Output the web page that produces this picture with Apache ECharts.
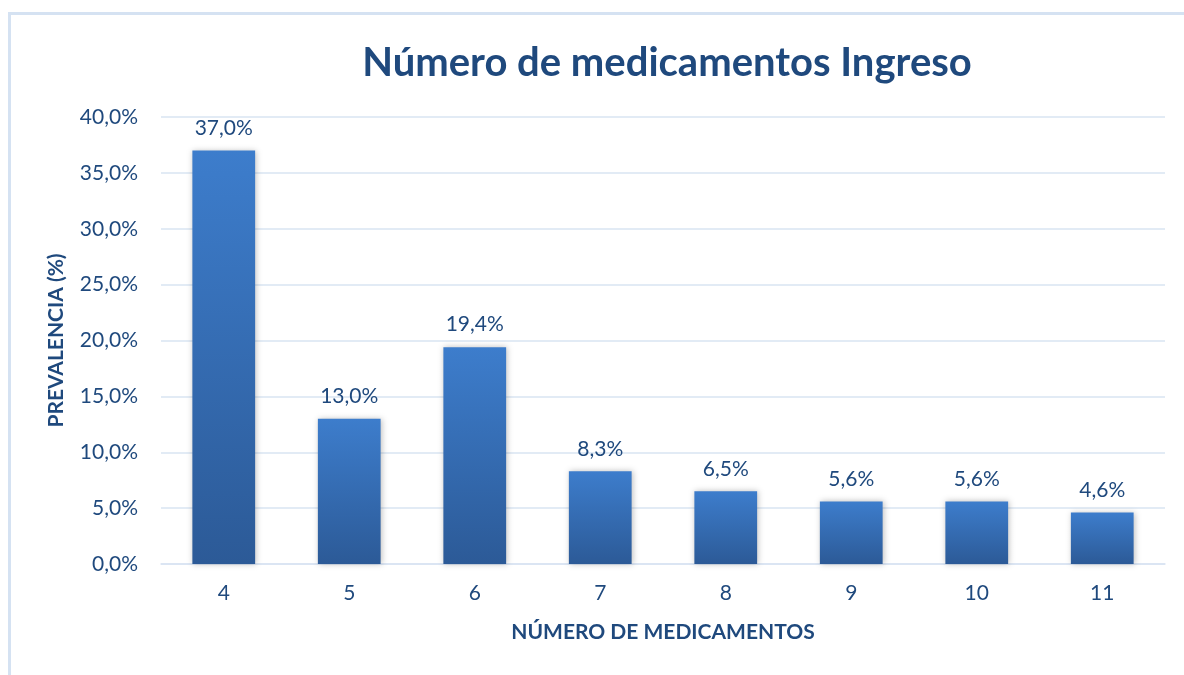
<!DOCTYPE html>
<html>
<head>
<meta charset="utf-8">
<script src="https://cdn.jsdelivr.net/npm/echarts@6/dist/echarts.min.js"></script>
<style>html,body{margin:0;padding:0;background:#fff;}#c{width:1184px;height:675px;}</style>
</head>
<body>
<div id="c"></div>
<script>
const categories = ['4', '5', '6', '7', '8', '9', '10', '11'];
const prevalence = [37.0, 13.0, 19.4, 8.3, 6.5, 5.6, 5.6, 4.6];
const titleText = 'Número de medicamentos Ingreso';
const xName = 'NÚMERO DE MEDICAMENTOS';
const yName = 'PREVALENCIA (%)';

const fmt = v => v.toFixed(1).replace('.', ',') + '%';
const textColor = '#1F497D';
const font = 'Lato';

const chart = echarts.init(document.getElementById('c'));
chart.setOption({
  backgroundColor: '#fff',
  animation: false,
  graphic: [{
    type: 'rect', left: 7, top: 11,
    shape: { width: 1300, height: 800 },
    style: { fill: 'none', stroke: '#D5E2F2', lineWidth: 3 }
  }],
  title: {
    text: titleText, left: 662, textAlign: 'center', top: 38,
    textStyle: { fontFamily: font, fontWeight: 'bold', fontSize: 40, color: textColor }
  },
  grid: { left: 161, right: 19, top: 117, bottom: 111 },
  xAxis: {
    type: 'category', data: categories,
    name: xName, nameLocation: 'middle', nameGap: 58,
    nameTextStyle: { fontFamily: font, fontWeight: 'bold', fontSize: 21, color: textColor },
    axisLine: { lineStyle: { color: '#D9E4F2', width: 1.5 } },
    axisTick: { show: false },
    axisLabel: { fontFamily: font, fontSize: 21, color: textColor, margin: 19 }
  },
  yAxis: {
    type: 'value', min: 0, max: 40, interval: 5,
    name: yName, nameLocation: 'middle', nameGap: 94,
    nameTextStyle: { fontFamily: font, fontWeight: 'bold', fontSize: 21, color: textColor },
    axisLine: { show: false }, axisTick: { show: false },
    axisLabel: { fontFamily: font, fontSize: 21, color: textColor, margin: 23, formatter: fmt },
    splitLine: { lineStyle: { color: '#D9E4F2', width: 1.5 } }
  },
  series: [{
    type: 'bar', data: prevalence, barWidth: '50%',
    itemStyle: {
      color: new echarts.graphic.LinearGradient(0, 0, 0, 1, [
        { offset: 0, color: '#3D7DCC' }, { offset: 1, color: '#2C5A97' }
      ]),
      shadowColor: 'rgba(0,0,0,0.25)', shadowBlur: 6, shadowOffsetX: 1
    },
    label: {
      show: true, position: 'top', distance: 12,
      fontFamily: font, fontSize: 21, color: textColor,
      formatter: p => fmt(p.value)
    }
  }]
});
</script>
</body>
</html>
